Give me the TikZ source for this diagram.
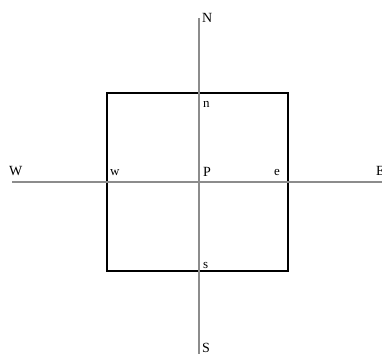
\documentclass[tikz,border=0pt]{standalone}
\usepackage{fontspec}
\setmainfont{Liberation Serif}
\begin{document}
\begin{tikzpicture}[x=1pt,y=-1pt,
  axis/.style={draw=gray!90, line width=1.6pt},
  cv/.style={draw=black, line width=2.6pt},
  lbl/.style={inner sep=0pt, anchor=base west, font=\fontsize{14}{16}\selectfont},
  sml/.style={inner sep=0pt, anchor=base west, font=\fontsize{13}{15}\selectfont}]
\useasboundingbox (0,0) rectangle (382,354);
\coordinate (wend) at (12,182);
\coordinate (eend) at (382,182);
\coordinate (nend) at (199,18);
\coordinate (send) at (199,354);
\draw[cv] (107,93) rectangle (288,271);
\draw[axis] (wend) -- (eend);
\draw[axis] (nend) -- (send);
\node[lbl] (W) at (9,175) {W};
\node[lbl] (E) at (376,175) {E};
\node[lbl] (N) at (202,22) {N};
\node[lbl] (S) at (202,352) {S};
\node[lbl] (P) at (203,176) {P};
\node[sml] (w) at (110,175) {w};
\node[sml] (e) at (274,175) {e};
\node[sml] (n) at (203,107) {n};
\node[sml] (s) at (203,268) {s};
\end{tikzpicture}
\end{document}
